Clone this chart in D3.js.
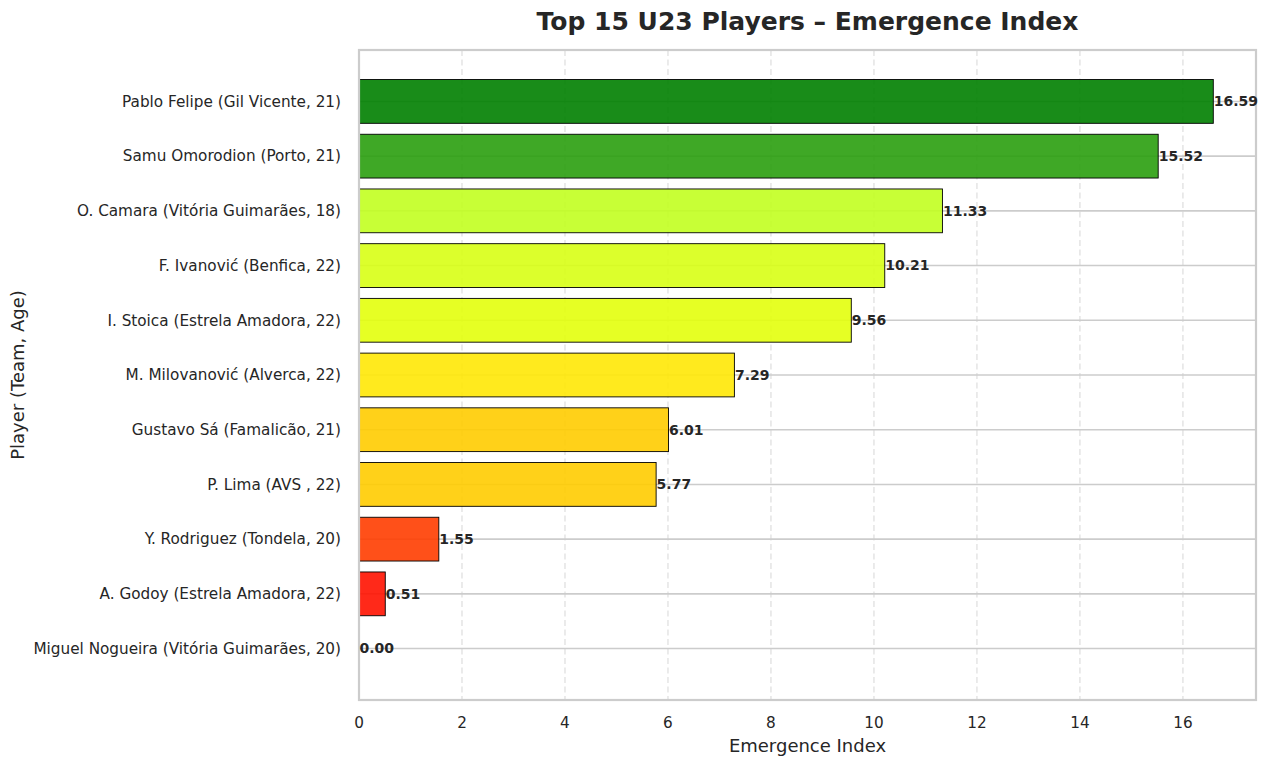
<!DOCTYPE html>
<html><head><meta charset="utf-8">
<script src="https://cdn.jsdelivr.net/npm/d3@7"></script>
<style>
body{margin:0;background:#fff;}
svg text{font-family:"DejaVu Sans",sans-serif;fill:#262626;}
</style></head><body>
<svg id="c" width="1267" height="766"></svg>
<script>
const players = [
 "Pablo Felipe (Gil Vicente, 21)",
 "Samu Omorodion (Porto, 21)",
 "O. Camara (Vitória Guimarães, 18)",
 "F. Ivanović (Benfica, 22)",
 "I. Stoica (Estrela Amadora, 22)",
 "M. Milovanović (Alverca, 22)",
 "Gustavo Sá (Famalicão, 21)",
 "P. Lima (AVS , 22)",
 "Y. Rodriguez (Tondela, 20)",
 "A. Godoy (Estrela Amadora, 22)",
 "Miguel Nogueira (Vitória Guimarães, 20)"
];
const values = [16.59, 15.52, 11.33, 10.21, 9.56, 7.29, 6.01, 5.77, 1.55, 0.51, 0.00];
const colors = ["#008000","#2a9e0e","#c2ff20","#d8ff15","#e3ff0c","#ffe805","#ffcc00","#ffcc00","#ff3d00","#ff1200","#ff0000"];
const xTicks = [0,2,4,6,8,10,12,14,16];

const svg = d3.select("#c");
const L = 359, R = 1256, T = 50, B = 700;
const x = d3.scaleLinear().domain([0, d3.max(values)*1.05]).range([L, R]);
const n = players.length;
const y = d3.scaleLinear().domain([-0.94, n - 1 + 0.94]).range([T, B]);
const bh = y(0.4) - y(-0.4);

// vertical dashed grid
svg.append("g").selectAll("line").data(xTicks).join("line")
  .attr("x1", d=>x(d)).attr("x2", d=>x(d)).attr("y1", T).attr("y2", B)
  .attr("stroke", "#e6e6e6").attr("stroke-width", 1.6).attr("stroke-dasharray", "6,3.5");
// horizontal solid grid
svg.append("g").selectAll("line").data(players).join("line")
  .attr("x1", L).attr("x2", R).attr("y1", (d,i)=>y(i)).attr("y2", (d,i)=>y(i))
  .attr("stroke", "#cccccc").attr("stroke-width", 1.6);

// bars
svg.append("g").selectAll("rect").data(values).join("rect")
  .attr("x", x(0)).attr("y", (d,i)=>y(i)-bh/2)
  .attr("width", d=>x(d)-x(0)).attr("height", bh)
  .attr("fill", (d,i)=>colors[i]).attr("fill-opacity", 0.9)
  .attr("stroke", d=> d>0 ? "#000" : "none").attr("stroke-width", 0.9);

// spines
svg.append("rect").attr("x", L).attr("y", T).attr("width", R-L).attr("height", B-T)
  .attr("fill", "none").attr("stroke", "#cccccc").attr("stroke-width", 2.2);

// value labels
svg.append("g").selectAll("text").data(values).join("text")
  .attr("x", d=>x(d)+0.5).attr("y", (d,i)=>y(i)).attr("dy", "0.35em")
  .attr("font-size", 14).attr("font-weight", "bold")
  .text(d=>d.toFixed(2));

// x axis ticks
svg.append("g").selectAll("text").data(xTicks).join("text")
  .attr("x", d=>x(d)).attr("y", 723).attr("dy","0.35em").attr("text-anchor","middle")
  .attr("font-size", 15.25).text(d=>d);
// y tick labels
svg.append("g").selectAll("text").data(players).join("text")
  .attr("x", 341).attr("y", (d,i)=>y(i)).attr("dy","0.35em").attr("text-anchor","end")
  .attr("font-size", 15.25).text(d=>d);

// titles
svg.append("text").attr("x", (L+R)/2).attr("y", 21).attr("dy","0.35em").attr("text-anchor","middle")
  .attr("font-size", 25).attr("font-weight","bold").text("Top 15 U23 Players – Emergence Index");
svg.append("text").attr("x", (L+R)/2).attr("y", 746).attr("dy","0.35em").attr("text-anchor","middle")
  .attr("font-size", 18).text("Emergence Index");
svg.append("text").attr("transform", `translate(18,${(T+B)/2}) rotate(-90)`).attr("dy","0.35em")
  .attr("text-anchor","middle").attr("font-size", 18).text("Player (Team, Age)");
</script></body></html>
